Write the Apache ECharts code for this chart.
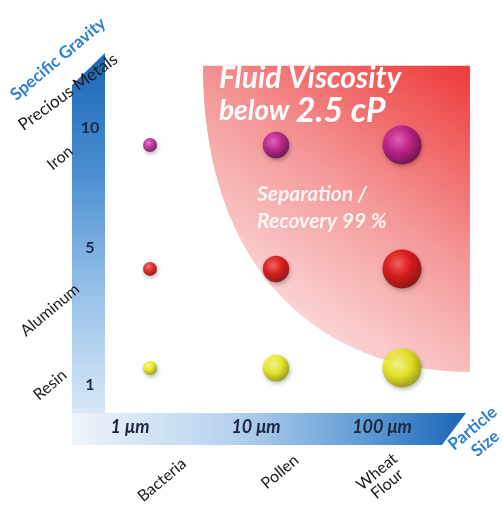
<!DOCTYPE html>
<html>
<head>
<meta charset="utf-8">
<script src="https://cdn.jsdelivr.net/npm/echarts@6/dist/echarts.min.js"></script>
<style>html,body{margin:0;padding:0;background:#fff}#c{width:503px;height:512px}</style>
</head>
<body>
<div id="c"></div>
<script>
// ---- data ----
const particleSizes = [1, 10, 100];                 // μm
const sizeLabels = ['1 μm', '10 μm', '100 μm'];
const particleNames = ['Bacteria', 'Pollen', 'Wheat\nFlour'];
const gravityValues = [1, 5, 10];
const gravityLabels = ['1', '5', '10'];
const materialNames = ['Resin', 'Aluminum', 'Iron', 'Precious Metals'];
// viscosity zone: corners [particle size μm, specific gravity]
const zoneTopLeft = [2.63, 13.2];
const zoneTopRight = [346, 13.2];
const zoneBottomRight = [346, 0.84];
const zoneCurveCtrl1 = [2.63, 4.95];
const zoneCurveCtrl2 = [22.3, 0.84];

// ---- styles ----
const sphereColors = {
  1: ['#ffff8a', '#eeee00', '#8c8c00'],
  5: ['#ff5a5a', '#e00000', '#7a0000'],
  10: ['#ee62cc', '#b8148f', '#5a0645']
};
function sphere(c) {
  return {
    type: 'radial', x: 0.4, y: 0.36, r: 0.68,
    colorStops: [{offset: 0, color: c[0]}, {offset: 0.5, color: c[1]}, {offset: 1, color: c[2]}]
  };
}
const chart = echarts.init(document.getElementById('c'));
const FONT = 'Lato';

const scatterSeries = gravityValues.map(g => ({
  type: 'scatter',
  z: 5,
  data: particleSizes.map(s => [s, g]),
  symbolSize: v => 14 + 12.5 * Math.log10(v[0]),
  itemStyle: {color: sphere(sphereColors[g]), shadowBlur: 4, shadowColor: 'rgba(0,0,0,0.35)', shadowOffsetX: 1, shadowOffsetY: 2},
  emphasis: {disabled: true}
}));

const zoneSeries = {
  type: 'custom',
  z: 1,
  silent: true,
  clip: false,
  data: [[zoneTopLeft[0], zoneTopLeft[1]]],
  renderItem: function (params, api) {
    const p0 = api.coord(zoneTopLeft), p1 = api.coord(zoneTopRight), p2 = api.coord(zoneBottomRight);
    const c1 = api.coord(zoneCurveCtrl1), c2 = api.coord(zoneCurveCtrl2);
    const d = `M${p0[0]},${p0[1]} L${p1[0]},${p1[1]} L${p2[0]},${p2[1]} C${c2[0]},${c2[1]} ${c1[0]},${c1[1]} ${p0[0]},${p0[1]} Z`;
    return {
      type: 'path',
      shape: {pathData: d},
      style: {
        fill: {type: 'linear', x: 1, y: 0, x2: 0.2, y2: 1,
          colorStops: [{offset: 0, color: '#ee3838'}, {offset: 0.45, color: '#f49898'}, {offset: 1, color: '#fff2f2'}]}
      }
    };
  }
};

function t(text, x, y, rotDeg, style) {
  return {
    type: 'text', x: x, y: y, rotation: rotDeg * Math.PI / 180, z: 100,
    style: Object.assign({text: text, align: 'center', verticalAlign: 'middle', fontFamily: FONT}, style)
  };
}

const option = {
  animation: false,
  grid: {left: 87, right: 38, top: 45.9, height: 346.9},
  xAxis: {
    type: 'log', min: 0.316228, max: 316.228, logBase: 10,
    axisLine: {show: false}, axisTick: {show: false}, splitLine: {show: false},
    axisLabel: {
      margin: 25, interval: 0, showMinLabel: false, showMaxLabel: false,
      formatter: v => {
        const i = particleSizes.indexOf(Math.round(v * 1000) / 1000);
        return i >= 0 ? '{a|' + sizeLabels[i] + '}' : '';
      },
      rich: {a: {fontFamily: FONT, fontStyle: 'italic', fontWeight: 'bold', fontSize: 18, color: '#1c2640', padding: [0, 40, 0, 0]}}
    }
  },
  yAxis: {
    type: 'value', min: 0, max: 14, interval: 1, offset: -3,
    axisLine: {show: false}, axisTick: {show: false}, splitLine: {show: false},
    axisLabel: {
      margin: 0, align: 'center',
      formatter: v => {
        const i = gravityValues.indexOf(v);
        if (i < 0) return '';
        return '{r' + i + '|' + gravityLabels[i] + '}';
      },
      rich: {
        r0: {fontFamily: FONT, fontWeight: 'bold', fontSize: 16, color: '#1c2a4a', padding: [34, 0, 0, 0]},
        r1: {fontFamily: FONT, fontWeight: 'bold', fontSize: 16, color: '#1c2a4a', padding: [0, 0, 42, 0]},
        r2: {fontFamily: FONT, fontWeight: 'bold', fontSize: 16, color: '#1c2a4a', padding: [0, 0, 34, 0]}
      }
    }
  },
  graphic: [
    {type: 'polygon', z: -5, silent: true, shape: {points: [[72, 85], [105, 53], [105, 445], [72, 445]]},
      style: {fill: {type: 'linear', x: 0, y: 0, x2: 0, y2: 1, colorStops: [{offset: 0, color: '#1a64b6'}, {offset: 0.3, color: '#4a8ed0'}, {offset: 0.6, color: '#94c0e8'}, {offset: 1, color: '#eaf2fa'}]}}},
    {type: 'polygon', z: -4, silent: true, shape: {points: [[72, 413], [466, 413], [442, 445], [72, 445]]},
      style: {fill: {type: 'linear', x: 0, y: 0, x2: 1, y2: 0, colorStops: [{offset: 0, color: '#eef4fb'}, {offset: 0.4, color: '#b8d3ee'}, {offset: 0.75, color: '#5d9ad5'}, {offset: 1, color: '#1a64b6'}]}}},
    t('Specific Gravity', 58, 59, 40, {fontSize: 17, fontWeight: 'bold', fill: '#2f80d0'}),
    t('Particle\nSize', 479, 436, 40, {fontSize: 17, fontWeight: 'bold', fill: '#2f80d0', lineHeight: 20}),
    t(materialNames[3], 68, 92, 36, {fontSize: 17, fill: '#1a1a1a'}),
    t(materialNames[2], 60, 158, 40, {fontSize: 16, fill: '#1a1a1a'}),
    t(materialNames[1], 50, 310, 40, {fontSize: 16, fill: '#1a1a1a'}),
    t(materialNames[0], 50, 385, 40, {fontSize: 16, fill: '#1a1a1a'}),
    t(particleNames[0], 162, 480, 40, {fontSize: 16, fill: '#1a1a1a'}),
    t(particleNames[1], 280, 472, 40, {fontSize: 16, fill: '#1a1a1a'}),
    t(particleNames[2], 382, 478, 40, {fontSize: 16, fill: '#1a1a1a', lineHeight: 16}),
    {type: 'text', x: 219, y: 63, z: 100, style: {text: 'Fluid Viscosity', fontFamily: FONT, fontSize: 30, fontWeight: 'bold', fontStyle: 'italic', fill: '#ffffff'}},
    {type: 'text', x: 219, y: 94, z: 100, style: {
      text: '{a|below }{b|2.5 cP}', fontFamily: FONT,
      rich: {a: {fontFamily: FONT, fontSize: 28, fontWeight: 'bold', fontStyle: 'italic', fill: '#ffffff'},
             b: {fontFamily: FONT, fontSize: 34, fontWeight: 'bold', fontStyle: 'italic', fill: '#ffffff'}}}},
    {type: 'text', x: 257, y: 181, z: 100, style: {text: 'Separation /\nRecovery 99 %', fontFamily: FONT, fontSize: 21, lineHeight: 27, fontWeight: 'bold', fontStyle: 'italic', fill: 'rgba(255,255,255,0.88)'}}
  ],
  series: [zoneSeries].concat(scatterSeries)
};
chart.setOption(option);
</script>
</body>
</html>
